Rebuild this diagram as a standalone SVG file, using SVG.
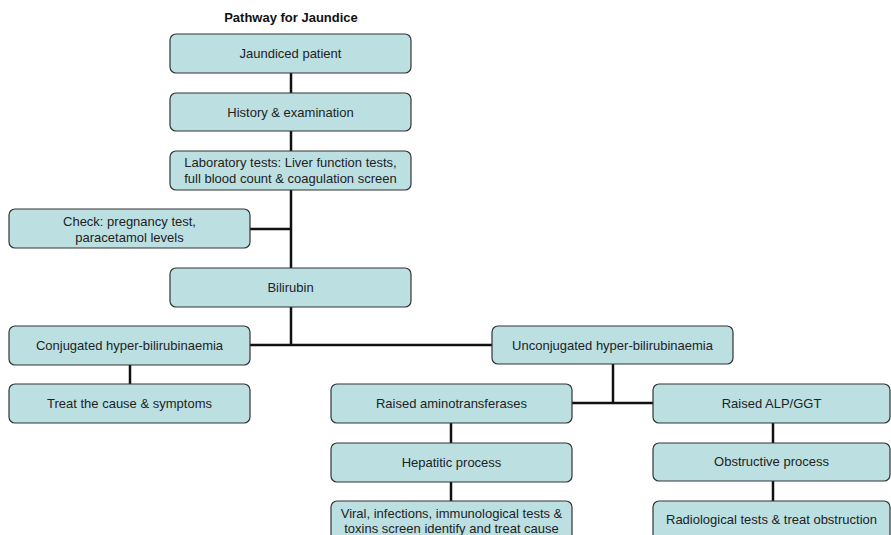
<svg xmlns="http://www.w3.org/2000/svg" width="891" height="535" viewBox="0 0 891 535">
<style>
.box rect{fill:#bce0e2;stroke:#333;stroke-width:1.2}
text{font-family:"Liberation Sans",Arial,sans-serif;font-size:13px;fill:#222;text-anchor:middle}
.title{font-weight:bold;font-size:13px;fill:#111}
.conn line{stroke:#111;stroke-width:2.5}
</style>
<rect width="891" height="535" fill="#fff"/>
<text class="title" x="291" y="22">Pathway for Jaundice</text>
<g class="conn">
<line x1="291" y1="73" x2="291" y2="346"/>
<line x1="250" y1="229" x2="291" y2="229"/>
<line x1="250" y1="345" x2="492" y2="345"/>
<line x1="130" y1="365" x2="130" y2="384"/>
<line x1="613" y1="364" x2="613" y2="404"/>
<line x1="572" y1="403" x2="653" y2="403"/>
<line x1="451" y1="423" x2="451" y2="443"/>
<line x1="451" y1="482" x2="451" y2="501"/>
<line x1="773" y1="423" x2="773" y2="443"/>
<line x1="773" y1="481" x2="773" y2="501"/>
</g>
<g id="jaundiced" class="box"><rect x="170" y="34" width="241" height="39" rx="6"/><text x="290.5" y="58">Jaundiced patient</text></g>
<g id="history" class="box"><rect x="170" y="93" width="241" height="38" rx="6"/><text x="290.5" y="117">History &amp; examination</text></g>
<g id="lab" class="box"><rect x="170" y="151" width="241" height="39" rx="6"/><text x="290.5" y="167">Laboratory tests: Liver function tests,</text><text x="290.5" y="183">full blood count &amp; coagulation screen</text></g>
<g id="check" class="box"><rect x="9" y="209" width="241" height="39" rx="6"/><text x="129.5" y="226">Check: pregnancy test,</text><text x="129.5" y="242">paracetamol levels</text></g>
<g id="bilirubin" class="box"><rect x="170" y="268" width="241" height="39" rx="6"/><text x="290.5" y="292">Bilirubin</text></g>
<g id="conjugated" class="box"><rect x="9" y="326" width="241" height="39" rx="6"/><text x="129.5" y="350">Conjugated hyper-bilirubinaemia</text></g>
<g id="treat" class="box"><rect x="9" y="384" width="241" height="39" rx="6"/><text x="129.5" y="408">Treat the cause &amp; symptoms</text></g>
<g id="unconjugated" class="box"><rect x="492" y="326" width="241" height="38" rx="6"/><text x="612.5" y="350">Unconjugated hyper-bilirubinaemia</text></g>
<g id="aminotransferases" class="box"><rect x="331" y="384" width="241" height="39" rx="6"/><text x="451.5" y="408">Raised aminotransferases</text></g>
<g id="alp" class="box"><rect x="653" y="384" width="237" height="39" rx="6"/><text x="771.5" y="408">Raised ALP/GGT</text></g>
<g id="hepatitic" class="box"><rect x="331" y="443" width="241" height="39" rx="6"/><text x="451.5" y="467">Hepatitic process</text></g>
<g id="obstructive" class="box"><rect x="653" y="443" width="237" height="38" rx="6"/><text x="771.5" y="466">Obstructive process</text></g>
<g id="viral" class="box"><rect x="331" y="501" width="241" height="45" rx="6"/><text x="451.5" y="518">Viral, infections, immunological tests &amp;</text><text x="451.5" y="533">toxins screen identify and treat cause</text></g>
<g id="radiological" class="box"><rect x="653" y="501" width="237" height="45" rx="6"/><text x="771.5" y="524">Radiological tests &amp; treat obstruction</text></g>
</svg>
